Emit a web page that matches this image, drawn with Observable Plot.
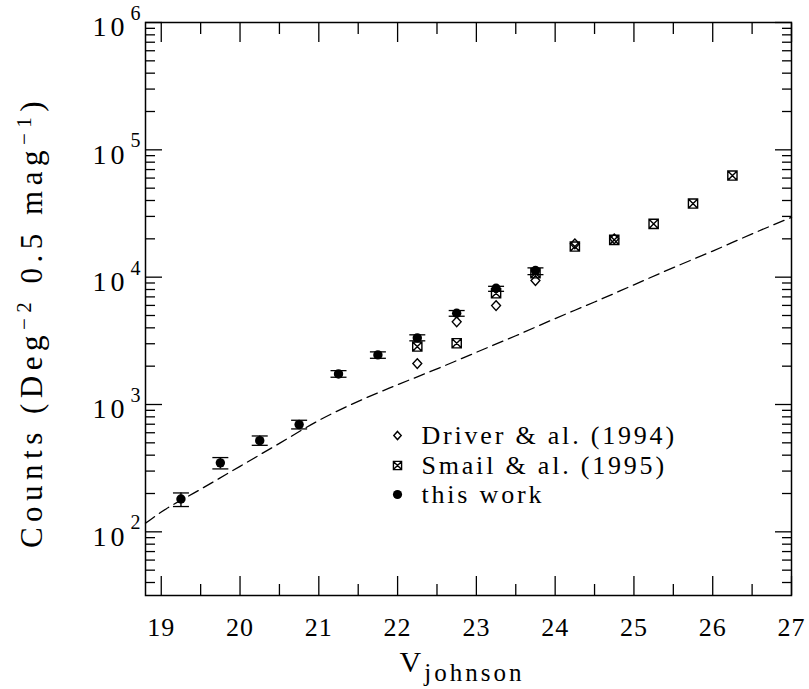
<!DOCTYPE html>
<html><head><meta charset="utf-8">
<script src="https://cdn.jsdelivr.net/npm/d3@7"></script>
<script src="https://cdn.jsdelivr.net/npm/@observablehq/plot@0.6"></script>
<style>
body{margin:0;background:#fff}
#chart svg text{font-family:"Liberation Serif",serif}
#chart .lg text{letter-spacing:2.8px}
#chart .tk text{letter-spacing:1px}
#chart .yt text{letter-spacing:4px}
</style>
</head><body><div id="chart"></div>
<script>
// this work
const thisMag = [19.25,19.75,20.25,20.75,21.25,21.75,22.25,22.75,23.25,23.75];
const thisCounts = [181,348,520,695,1738,2451,3336,5207,8180,11270];
const thisLow = [158,312,478,643,1637,2306,3162,4934,7742,10470];
const thisHigh = [202,383,566,752,1845,2590,3525,5470,8475,11830];
// Smail & al. (1995)
const smailMag = [22.25,22.75,23.25,23.75,24.25,24.75,25.25,25.75,26.25];
const smailCounts = [2851,3027,7477,10740,17400,19630,26200,37850,62800];
// Driver & al. (1994)
const driverMag = [22.25,22.75,23.25,23.75,24.25,24.75];
const driverCounts = [2096,4457,5980,9400,18260,20000];
// model (dashed)
const modelMag = [18.8,19,19.5,20,20.5,21,21.5,22,22.5,23,23.5,24,24.5,25,25.5,26,26.5,27];
const modelCounts = [117,143,216,327,495,750,1059,1429,1905,2570,3467,4732,6383,8710,11885,16032,21878,29512];
// ticks
const xMajor = [19,20,21,22,23,24,25,26,27];
const xMinor = [19.5,20.5,21.5,22.5,23.5,24.5,25.5,26.5];
const yDecades = [1e2,1e3,1e4,1e5,1e6];
const yExp = ["2","3","4","5","6"];
const yMinor = [];
for (const d of [10,100,1000,10000,100000]) for (let k=2;k<=9;k++) if (k*d>=31.6 && k*d<1e6) yMinor.push(k*d);
const legendLabels = ["Driver & al. (1994)","Smail & al. (1995)","this work"];

const thisData = thisMag.map((m,i)=>({m, c:thisCounts[i], lo:thisLow[i], hi:thisHigh[i]}));
const smailData = smailMag.map((m,i)=>({m, c:smailCounts[i]}));
const driverData = driverMag.map((m,i)=>({m, c:driverCounts[i]}));
const modelData = modelMag.map((m,i)=>({m, c:modelCounts[i]}));

const squareX = {draw(ctx,size){const s=Math.sqrt(size)/2;ctx.moveTo(-s,-s);ctx.lineTo(s,-s);ctx.lineTo(s,s);ctx.lineTo(-s,s);ctx.closePath();ctx.moveTo(-s,-s);ctx.lineTo(s,s);ctx.moveTo(s,-s);ctx.lineTo(-s,s);}};
const diamond = {draw(ctx,size){const s=Math.sqrt(size)/2;ctx.moveTo(0,-s*1.1);ctx.lineTo(s,0);ctx.lineTo(0,s*1.1);ctx.lineTo(-s,0);ctx.closePath();}};
const cap = {draw(ctx){ctx.moveTo(-8,0);ctx.lineTo(8,0);}};

const tickStyle = {stroke:"black", strokeWidth:1.3};
const plot = Plot.plot({
  width:809, height:689,
  marginLeft:145, marginRight:18, marginTop:22, marginBottom:94,
  x:{domain:[18.8,27], axis:null, label:null},
  y:{type:"log", domain:[Math.pow(10,1.5),1e6], axis:null, label:null},
  style:{fontFamily:"Liberation Serif", background:"white", color:"black"},
  marks:[
    Plot.line(modelData,{x:"m",y:"c",stroke:"black",strokeWidth:1.3,strokeDasharray:"11,6",curve:"monotone-x"}),
    Plot.ruleX(thisData,{x:"m",y1:"lo",y2:"hi",stroke:"black",strokeWidth:1.4}),
    Plot.dot(thisData,{x:"m",y:"lo",symbol:cap,stroke:"black",strokeWidth:1.3}),
    Plot.dot(thisData,{x:"m",y:"hi",symbol:cap,stroke:"black",strokeWidth:1.3}),
    Plot.dot(smailData,{x:"m",y:"c",symbol:squareX,r:5.2,stroke:"black",strokeWidth:1.4,fill:"none"}),
    Plot.dot(driverData,{x:"m",y:"c",symbol:diamond,r:5,stroke:"black",strokeWidth:1.4,fill:"none"}),
    Plot.dot(thisData,{x:"m",y:"c",r:4.7,fill:"black",stroke:"none"}),
    // axes: inward ticks on all four sides
    Plot.axisX({anchor:"bottom",ticks:xMajor,tickSize:-19,tickPadding:41,fontSize:26,label:null,className:"tk",...tickStyle}),
    Plot.axisX({anchor:"bottom",ticks:xMinor,tickSize:-11,tickFormat:()=>"",label:null,...tickStyle}),
    Plot.axisX({anchor:"top",ticks:xMajor,tickSize:-19,tickFormat:()=>"",label:null,...tickStyle}),
    Plot.axisX({anchor:"top",ticks:xMinor,tickSize:-11,tickFormat:()=>"",label:null,...tickStyle}),
    Plot.axisY({anchor:"left",ticks:yDecades,tickSize:-17,tickFormat:()=>"",label:null,...tickStyle}),
    Plot.axisY({anchor:"left",ticks:yMinor,tickSize:-10,tickFormat:()=>"",label:null,...tickStyle}),
    Plot.axisY({anchor:"right",ticks:yDecades,tickSize:-17,tickFormat:()=>"",label:null,...tickStyle}),
    Plot.axisY({anchor:"right",ticks:yMinor,tickSize:-10,tickFormat:()=>"",label:null,...tickStyle}),
    // y tick labels 10^n
    Plot.text(yDecades,{y:d=>d,frameAnchor:"left",text:()=>"10",textAnchor:"end",dx:-17,dy:5,fontSize:28,className:"yt"}),
    Plot.text(yDecades,{y:d=>d,frameAnchor:"left",text:(d,i)=>yExp[i],textAnchor:"start",dx:-15,dy:-9,fontSize:20}),
    Plot.frame({stroke:"black",strokeWidth:1.5}),
    // legend
    Plot.dot([0],{frameAnchor:"top-left",dx:252,dy:413,symbol:diamond,r:4.2,stroke:"black",strokeWidth:1.4,fill:"none"}),
    Plot.dot([0],{frameAnchor:"top-left",dx:252,dy:443,symbol:squareX,r:4.6,stroke:"black",strokeWidth:1.4,fill:"none"}),
    Plot.dot([0],{frameAnchor:"top-left",dx:252,dy:472,r:4.6,fill:"black"}),
    Plot.text([legendLabels[0]],{frameAnchor:"top-left",dx:276,dy:413,text:d=>d,textAnchor:"start",lineAnchor:"middle",fontSize:26,className:"lg"}),
    Plot.text([legendLabels[1]],{frameAnchor:"top-left",dx:276,dy:443,text:d=>d,textAnchor:"start",lineAnchor:"middle",fontSize:26,className:"lg"}),
    Plot.text([legendLabels[2]],{frameAnchor:"top-left",dx:276,dy:472,text:d=>d,textAnchor:"start",lineAnchor:"middle",fontSize:26,className:"lg"})
  ]
});
document.getElementById("chart").append(plot);

// axis titles with super/subscripts
const svg = d3.select(plot);
const yl = svg.append("text").attr("transform","translate(42,322) rotate(-90)")
  .attr("text-anchor","middle").attr("font-size",31).attr("fill","black")
  .style("letter-spacing","5.5px").style("font-family","Liberation Serif");
yl.append("tspan").text("Counts (Deg");
yl.append("tspan").attr("dy",-11).attr("font-size",21).text("−2");
yl.append("tspan").attr("dy",11).text(" 0.5 mag");
yl.append("tspan").attr("dy",-11).attr("font-size",21).text("−1");
yl.append("tspan").attr("dy",11).text(")");
const xl = svg.append("text").attr("transform","translate(462,672)")
  .attr("text-anchor","middle").attr("font-size",30).attr("fill","black")
  .style("letter-spacing","3px").style("font-family","Liberation Serif");
xl.append("tspan").text("V");
xl.append("tspan").attr("dy",9).attr("font-size",25).text("johnson");
</script>
</body></html>
